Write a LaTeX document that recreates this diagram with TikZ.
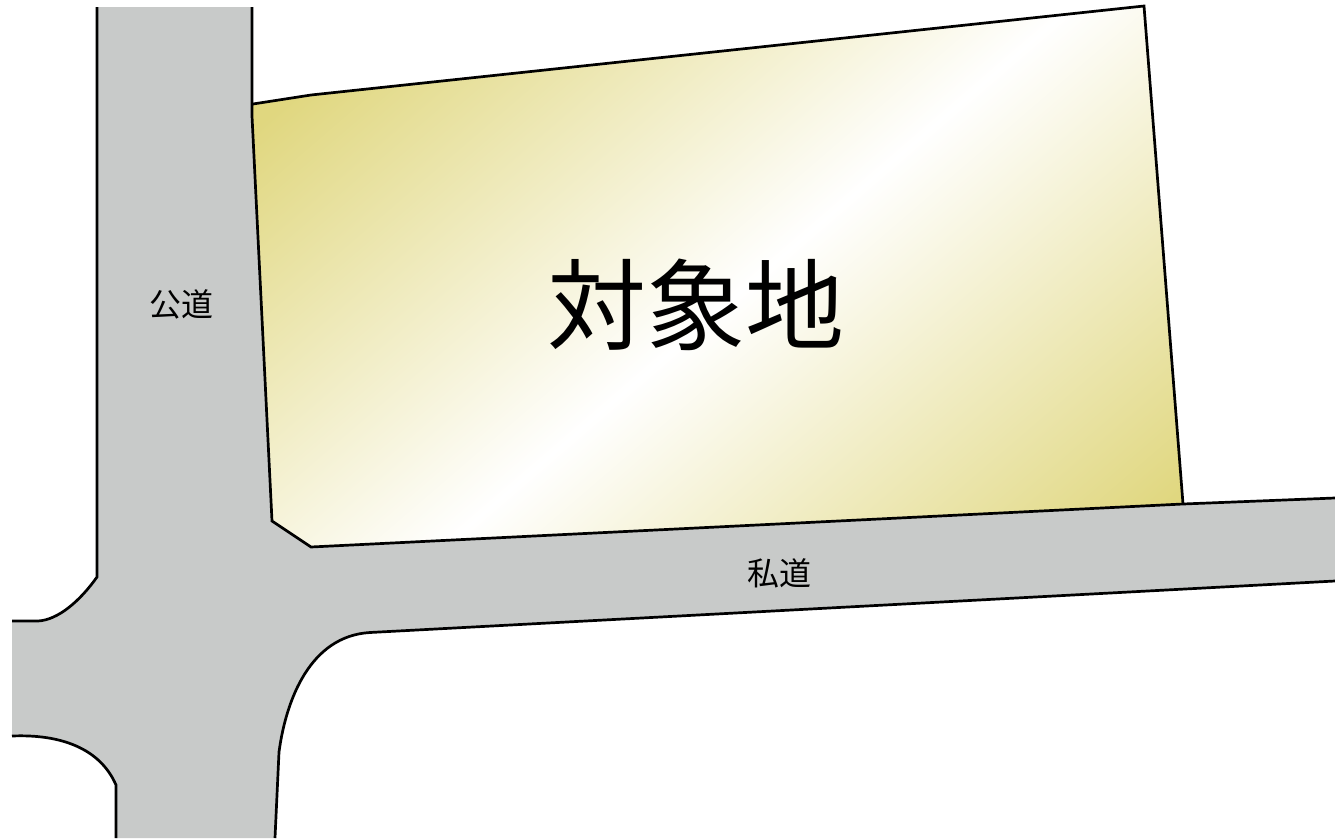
\documentclass[tikz,border=0pt]{standalone}
\usepackage{fontspec}
\newfontfamily\cjk{Noto Sans CJK JP}
\definecolor{roadgray}{HTML}{C8CAC9}
\definecolor{lotgold}{HTML}{E0D77F}
\pgfdeclarehorizontalshading{lotshade}{100bp}{
  color(0bp)=(lotgold);
  color(31.6bp)=(lotgold);
  color(50bp)=(white);
  color(68.4bp)=(lotgold);
  color(100bp)=(lotgold)}
\tikzset{
  edge/.style={line width=2.7pt,black,line join=miter},
  lab/.style={font=\cjk\fontsize{32}{32}\selectfont,inner sep=0pt,text=black},
  title/.style={font=\cjk\fontsize{99}{99}\selectfont,inner sep=0pt,text=black}
}
\begin{document}
\begin{tikzpicture}[x=1pt,y=-1pt]
\useasboundingbox (0,0) rectangle (1335,838);
\fill[white] (0,0) rectangle (1335,838);
% road surface
\fill[roadgray] (97,7) -- (97,577) .. controls (80,601) and (58,620) .. (38,621) -- (12,621) -- (12,736)
  .. controls (60,734) and (100,748) .. (116,785) -- (116,838) -- (275,838) -- (279,752)
  .. controls (286,700) and (310,636) .. (370,632.5) -- (1335,581) -- (1335,498) -- (1183,504)
  -- (311,547) -- (272,521) -- (252,116) -- (252,7) -- cycle;
% lot with diagonal gradient
\begin{scope}
\clip (253,104) -- (311,95) -- (1144,6) -- (1183,504) -- (311,547) -- (272,521) -- (253,116) -- cycle;
\shade[shading=lotshade,shading angle=-49.3] (725-600,305-600) rectangle (725+600,305+600);
\end{scope}
\draw[edge] (253,104) -- (311,95) -- (1144,6) -- (1183,504);
% road edges
\draw[edge] (97,7) -- (97,577) .. controls (80,601) and (58,620) .. (38,621) -- (12,621);
\draw[edge] (12,736) .. controls (60,734) and (100,748) .. (116,785) -- (116,838);
\draw[edge] (275,838) -- (279,752) .. controls (286,700) and (310,636) .. (370,632.5) -- (1335,581);
\draw[edge] (1335,498) -- (1183,504) -- (311,547) -- (272,521) -- (252,116) -- (252,7);
% labels
\node[title] (lot) at (696,305) {対象地};
\node[lab] (public) at (181,304) {公道};
\node[lab] (private) at (779,573) {私道};
\end{tikzpicture}
\end{document}
